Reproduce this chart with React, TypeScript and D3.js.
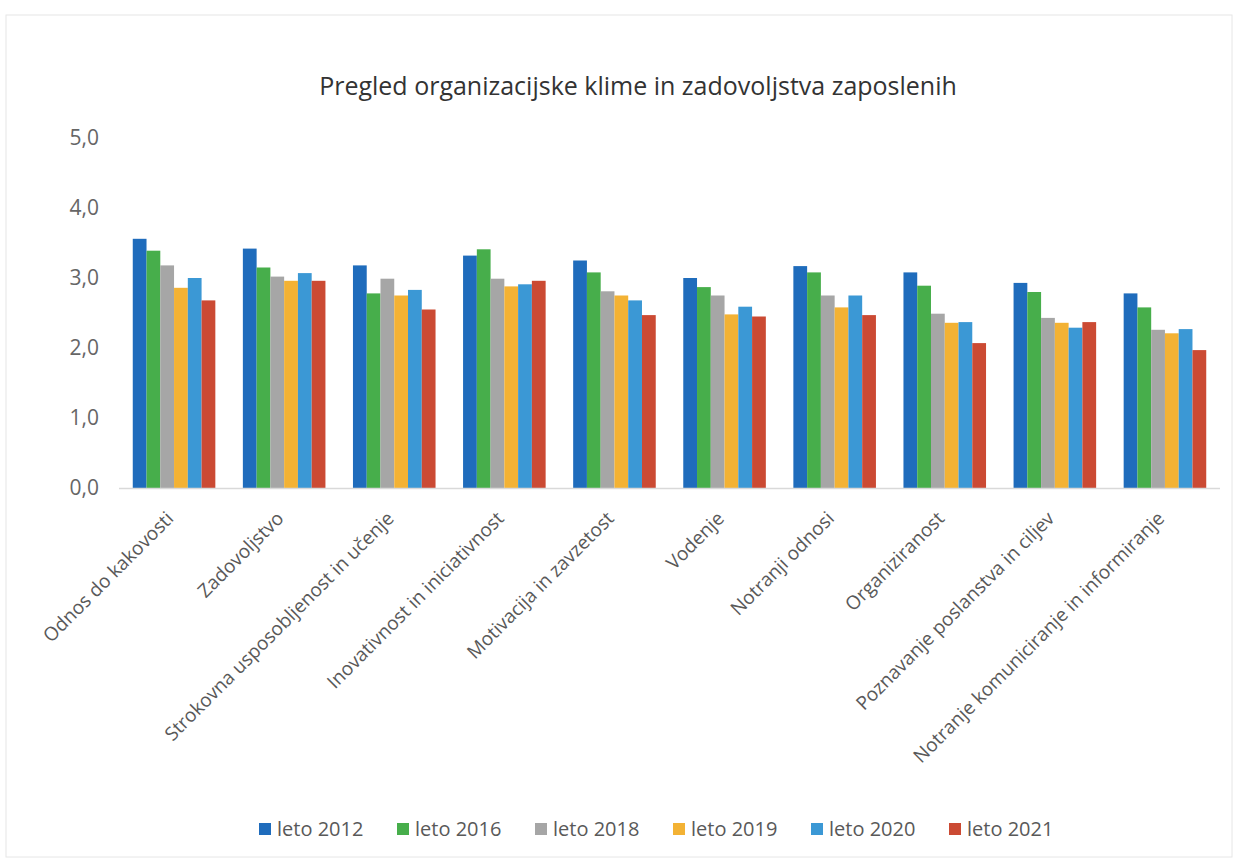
import React from "react";
import * as d3 from "d3";

const title = "Pregled organizacijske klime in zadovoljstva zaposlenih";
const categories = [
  "Odnos do kakovosti",
  "Zadovoljstvo",
  "Strokovna usposobljenost in učenje",
  "Inovativnost in iniciativnost",
  "Motivacija in zavzetost",
  "Vodenje",
  "Notranji odnosi",
  "Organiziranost",
  "Poznavanje poslanstva in ciljev",
  "Notranje komuniciranje in informiranje",
];
const seriesNames = ["leto 2012", "leto 2016", "leto 2018", "leto 2019", "leto 2020", "leto 2021"];
const leto2012 = [3.56, 3.42, 3.18, 3.32, 3.25, 3.0, 3.17, 3.08, 2.93, 2.78];
const leto2016 = [3.39, 3.15, 2.78, 3.41, 3.08, 2.87, 3.08, 2.89, 2.8, 2.58];
const leto2018 = [3.18, 3.02, 2.99, 2.99, 2.81, 2.75, 2.75, 2.49, 2.43, 2.26];
const leto2019 = [2.86, 2.96, 2.75, 2.88, 2.75, 2.48, 2.58, 2.36, 2.36, 2.21];
const leto2020 = [3.0, 3.07, 2.83, 2.91, 2.68, 2.59, 2.75, 2.37, 2.29, 2.27];
const leto2021 = [2.68, 2.96, 2.55, 2.96, 2.47, 2.45, 2.47, 2.07, 2.37, 1.97];
const seriesValues = [leto2012, leto2016, leto2018, leto2019, leto2020, leto2021];
const colors = ["#1f6cbc", "#47ae4b", "#a6a6a6", "#f3b234", "#3b98d5", "#cb4a33"];
const yTicks = [0, 1, 2, 3, 4, 5];

export default function App() {
  const W = 1237;
  const H = 860;
  const left = 119;
  const right = 1220;
  const y0 = 488;
  const yTop = 138;
  const font = "'Open Sans', 'Liberation Sans', sans-serif";

  const x = d3.scaleBand<string>().domain(categories).range([left, right]).paddingInner(0.25).paddingOuter(0.125);
  const xs = d3.scaleBand<string>().domain(seriesNames).range([0, x.bandwidth()]).padding(0);
  const y = d3.scaleLinear().domain([0, 5]).range([y0, yTop]);
  const fmt = (v: number) => d3.format(".1f")(v).replace(".", ",");

  const legendX = d3.scalePoint<string>().domain(seriesNames).range([266, 956]);

  return (
    <svg width={W} height={H} style={{ position: "absolute", left: 0, top: 0, background: "#fff" }}>
      <rect x={6} y={15} width={1226} height={842} fill="#fff" stroke="#e6e6e6" strokeWidth={1} />
      <text x={638} y={95} textAnchor="middle" fontFamily={font} fontSize={25} fill="#333">
        {title}
      </text>
      {yTicks.map((t) => (
        <text key={t} x={99} y={y(t)} dy="0.35em" textAnchor="end" fontFamily={font} fontSize={21} fill="#666">
          {fmt(t)}
        </text>
      ))}
      {categories.map((c, i) => (
        <g key={c} transform={`translate(${x(c)},0)`}>
          {seriesNames.map((s, j) => (
            <rect
              key={s}
              x={xs(s)}
              y={y(seriesValues[j][i])}
              width={xs.bandwidth()}
              height={y0 - y(seriesValues[j][i])}
              fill={colors[j]}
            />
          ))}
        </g>
      ))}
      <line x1={left} x2={right} y1={y0 + 0.5} y2={y0 + 0.5} stroke="#d9d9d9" strokeWidth={1.5} />
      {categories.map((c) => {
        const cx = (x(c) as number) + x.bandwidth() / 2;
        return (
          <text
            key={c}
            transform={`translate(${cx - 4},${y0 + 27}) rotate(-45)`}
            textAnchor="end"
            dy="0.35em"
            fontFamily={font}
            fontSize={19}
            fill="#595959"
          >
            {c}
          </text>
        );
      })}
      {seriesNames.map((s, j) => (
        <g key={s} transform={`translate(${legendX(s)},829)`}>
          <rect x={-7} y={-6} width={12} height={12} fill={colors[j]} />
          <text x={11} y={0} dy="0.35em" fontFamily={font} fontSize={20} fill="#595959">
            {s}
          </text>
        </g>
      ))}
    </svg>
  );
}
